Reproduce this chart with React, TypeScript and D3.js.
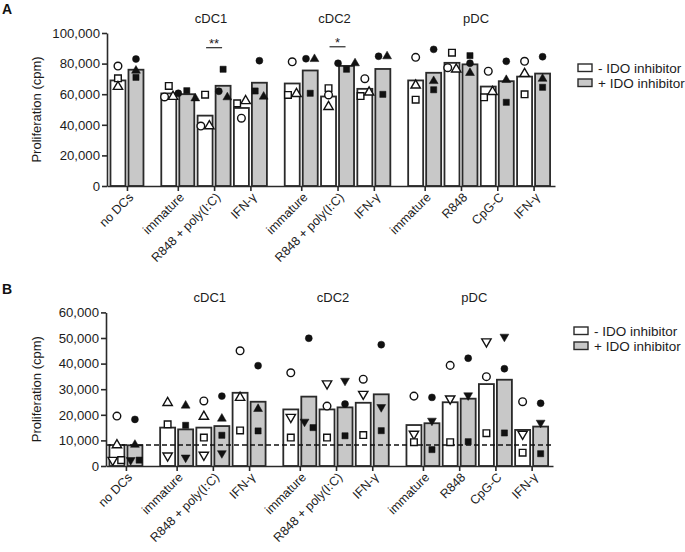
import React, { useRef, useEffect } from 'react';
import * as d3 from 'd3';

// categories on the x axis and the DC subset each one belongs to
const categories = ['no DCs', 'immature', 'R848 + poly(I:C)', 'IFN-γ', 'immature', 'R848 + poly(I:C)', 'IFN-γ', 'immature', 'R848', 'CpG-C', 'IFN-γ'];
const cellTypes = ['', 'cDC1', 'cDC1', 'cDC1', 'cDC2', 'cDC2', 'cDC2', 'pDC', 'pDC', 'pDC', 'pDC'];
const cellTypeNames = ['cDC1', 'cDC2', 'pDC'];
const legendLabels = ['- IDO inhibitor', '+ IDO inhibitor'];

// Panel A, proliferation in thousands of cpm
const barsAMinus = [69, 60.5, 46, 51, 67, 58.5, 63.5, 69, 80.5, 65, 71.5];
const barsAPlus = [76, 60, 65.5, 67.5, 75.5, 78.5, 76.5, 74, 79.5, 68.5, 73.5];
const circleAMinus = [78.4, 58.2, 39.2, 44.3, 81.2, 59.5, 70.1, 84.1, 77.3, 75, 81.5];
const squareAMinus = [70.4, 65.4, 59.7, 54, 59.5, 63.9, 58.8, 56.4, 87.1, 58, 59.9];
const triAMinus = [64.9, 58.4, 39.2, 55.6, 60.3, 51.8, 61.2, 65.8, 76.3, 61.6, 73.4];
const circleAPlus = [83, 60.6, 61.9, 81.9, 83.2, 80.2, 84.8, 89.3, 80.2, 81.5, 84.5];
const squareAPlus = [71, 62.3, 76.3, 62.1, 60.6, 76.3, 59.9, 62.9, 85.2, 54.7, 64.5];
const triAPlus = [75.4, 57.3, 58, 58.4, 83, 80.2, 84.8, 68.6, 73.9, 69.3, 70.1];
const sigAIndex = [2, 5];
const sigALabel = ['**', '*'];
const sigAValue = [90.4, 91];

// Panel B, proliferation in thousands of cpm
const barsBMinus = [8.2, 15, 15, 28.6, 22.1, 22.1, 24.7, 16, 24.9, 32, 14.1];
const barsBPlus = [8.1, 14.3, 15.6, 25.1, 27.1, 22.9, 28, 16.7, 26.3, 33.7, 15.4];
const circleBMinus = [19.5, null, 25.4, 45, 36.4, 23.4, 33.9, 27.3, 39.3, 34.9, 25.1];
const squareBMinus = [2.3, 16.3, 11.1, 13.9, 11.1, 11.1, 12.1, 9.3, 9.3, 12.8, 5.2];
const triUpBMinus = [8.2, 24.7, 19.3, 26.7, null, null, null, null, null, null, null];
const triDownBMinus = [2.3, 4, 4.3, null, 19.1, 32.2, 28.1, 12.5, 26.3, 48.6, 12.5];
const circleBPlus = [18.2, null, 27.3, 39.2, 49.9, 24.2, 47.4, 26.8, 42.1, 38, 24.5];
const squareBPlus = [2.3, 15.9, 12, 13.7, 15, 11.8, 13.8, 6.4, 9.5, 12.9, 4.8];
const triUpBPlus = [8.3, 23.6, 18.5, 22.3, null, null, null, null, null, null, null];
const triDownBPlus = [2.3, 3.3, 5, null, 17.3, 33.3, 23, 17.7, 27.6, 50.5, 16.9];
const noDCLevelB = 8.2;

const FONT = '"Liberation Sans", Arial, sans-serif';
const INK = '#2a2a2a';
const TEXT = '#1c1c1c';
const GREY = '#c8c8c8';

type Shape = 'circle' | 'square' | 'triUp' | 'triDown';
type Series = { shape: Shape; values: (number | null)[] };

interface PanelSpec {
  letter: string;
  letterY: number;
  top: number;
  bottom: number;
  left: number;
  right: number;
  max: number;
  step: number;
  barsMinus: number[];
  barsPlus: number[];
  pointsMinus: Series[];
  pointsPlus: Series[];
  legendX: number;
  legendY: number;
  dashed?: number;
  sig?: { index: number; label: string; value: number }[];
}

// x positions: one slot per category, a wider gap between DC subsets
let slot = 0;
const positions = categories.map((_, i) => {
  if (i > 0) slot += cellTypes[i] !== cellTypes[i - 1] ? 1.4 : 1;
  return slot;
});

const symbolFor = (shape: Shape, filled: boolean) => {
  const type = shape === 'circle' ? d3.symbolCircle : shape === 'square' ? d3.symbolSquare : d3.symbolTriangle;
  const size = shape === 'circle' ? (filled ? 38 : 46) : shape === 'square' ? (filled ? 38 : 44) : (filled ? 34 : 38);
  return d3.symbol().type(type).size(size)() as string;
};

function drawPanel(svg: d3.Selection<SVGSVGElement, unknown, null, undefined>, p: PanelSpec) {
  const x = d3.scaleLinear()
    .domain([-0.55, positions[positions.length - 1] + 0.59])
    .range([p.left, p.right]);
  const y = d3.scaleLinear().domain([0, p.max]).range([p.bottom, p.top]);

  const g = svg.append('g');

  // panel letter
  g.append('text')
    .attr('x', 2).attr('y', p.letterY)
    .attr('font-size', 14).attr('font-weight', 'bold').attr('fill', '#111')
    .text(p.letter);

  // DC subset titles
  cellTypeNames.forEach(name => {
    const ps = positions.filter((_, i) => cellTypes[i] === name);
    g.append('text')
      .attr('x', x(d3.mean(ps) as number) - 3)
      .attr('y', p.top - 10)
      .attr('text-anchor', 'middle')
      .attr('font-size', 13).attr('fill', TEXT)
      .text(name);
  });

  // bars
  const barW = 15;
  positions.forEach((pos, i) => {
    const c = x(pos);
    g.append('rect')
      .attr('x', c - 1.5 - barW).attr('y', y(p.barsMinus[i]))
      .attr('width', barW).attr('height', p.bottom - y(p.barsMinus[i]))
      .attr('fill', '#fff').attr('stroke', INK).attr('stroke-width', 1.8);
    g.append('rect')
      .attr('x', c + 1.5).attr('y', y(p.barsPlus[i]))
      .attr('width', barW).attr('height', p.bottom - y(p.barsPlus[i]))
      .attr('fill', GREY).attr('stroke', INK).attr('stroke-width', 1.8);
  });

  // dashed "no DCs" level
  if (p.dashed !== undefined) {
    g.append('line')
      .attr('x1', p.left).attr('x2', p.right)
      .attr('y1', y(p.dashed)).attr('y2', y(p.dashed))
      .attr('stroke', '#111').attr('stroke-width', 1.3)
      .attr('stroke-dasharray', '5,3');
  }

  // replicate points, spread sideways when they would overlap
  const drawPoints = (series: Series[], filled: boolean, offset: number) => {
    positions.forEach((pos, i) => {
      const cx = x(pos) + offset;
      const pts = series
        .map((s, k) => ({ shape: s.shape, k, v: s.values[i] }))
        .filter(d => d.v !== null)
        .map(d => ({ ...d, py: y(d.v as number) }))
        .sort((a, b) => a.py - b.py);
      const clusters: typeof pts[] = [];
      pts.forEach(pt => {
        const last = clusters[clusters.length - 1];
        if (last && pt.py - last[last.length - 1].py < 6) last.push(pt);
        else clusters.push([pt]);
      });
      clusters.forEach(cl => {
        cl.sort((a, b) => a.k - b.k);
        cl.forEach((pt, j) => {
          const px = cx + (j - (cl.length - 1) / 2) * 8.5;
          g.append('path')
            .attr('d', symbolFor(pt.shape, filled))
            .attr('transform', `translate(${px},${pt.py})${pt.shape === 'triDown' ? ' rotate(180)' : ''}`)
            .attr('fill', filled ? '#111' : '#fff')
            .attr('stroke', '#111')
            .attr('stroke-width', filled ? 0.5 : 1.4);
        });
      });
    });
  };
  drawPoints(p.pointsMinus, false, -9);
  drawPoints(p.pointsPlus, true, 9);

  // significance marks
  (p.sig ?? []).forEach(s => {
    const c = x(positions[s.index]);
    g.append('line')
      .attr('x1', c - 8).attr('x2', c + 8)
      .attr('y1', y(s.value)).attr('y2', y(s.value))
      .attr('stroke', INK).attr('stroke-width', 1.2);
    g.append('text')
      .attr('x', c).attr('y', y(s.value) + 0.5)
      .attr('text-anchor', 'middle').attr('font-size', 13).attr('fill', TEXT)
      .text(s.label);
  });

  // y axis
  g.append('g')
    .attr('transform', `translate(${p.left},0)`)
    .call(d3.axisLeft(y)
      .tickValues(d3.range(0, p.max + p.step / 2, p.step))
      .tickSize(5).tickSizeOuter(0).tickPadding(2)
      .tickFormat(d => d3.format(',')((d as number) * 1000)))
    .attr('font-size', 13.2).attr('font-family', FONT)
    .call(a => a.selectAll('path, line').attr('stroke', INK).attr('stroke-width', 1.6))
    .call(a => a.selectAll('text').attr('fill', TEXT));

  g.append('text')
    .attr('transform', `translate(36,${(p.top + p.bottom) / 2}) rotate(-90)`)
    .attr('text-anchor', 'middle').attr('dy', '0.35em')
    .attr('font-size', 13).attr('fill', TEXT)
    .text('Proliferation (cpm)');

  // x axis
  g.append('g')
    .attr('transform', `translate(0,${p.bottom})`)
    .call(d3.axisBottom(x)
      .tickValues(positions)
      .tickSize(5).tickSizeOuter(0)
      .tickFormat((_, i) => categories[i]))
    .attr('font-size', 12.5).attr('font-family', FONT)
    .call(a => a.selectAll('path, line').attr('stroke', INK).attr('stroke-width', 1.6))
    .call(a => a.selectAll('text')
      .attr('x', 0).attr('y', 0).attr('dy', '0.35em')
      .attr('transform', 'translate(3.5,9) rotate(-45)')
      .attr('text-anchor', 'end')
      .attr('fill', TEXT));

  // legend
  legendLabels.forEach((label, i) => {
    const ly = p.legendY + i * 15;
    g.append('rect')
      .attr('x', p.legendX).attr('y', ly)
      .attr('width', 14).attr('height', 7.5)
      .attr('fill', i === 0 ? '#fff' : GREY)
      .attr('stroke', INK).attr('stroke-width', 1.4);
    g.append('text')
      .attr('x', p.legendX + 20).attr('y', ly + 8.5)
      .attr('font-size', 13.5).attr('fill', TEXT)
      .text(label);
  });
}

const App: React.FC = () => {
  const svgRef = useRef<SVGSVGElement | null>(null);

  useEffect(() => {
    if (!svgRef.current) return;
    const svg = d3.select(svgRef.current);
    svg.selectAll('*').remove();

    drawPanel(svg, {
      letter: 'A', letterY: 14,
      top: 33, bottom: 186, left: 107, right: 555,
      max: 100, step: 20,
      barsMinus: barsAMinus, barsPlus: barsAPlus,
      pointsMinus: [
        { shape: 'circle', values: circleAMinus },
        { shape: 'square', values: squareAMinus },
        { shape: 'triUp', values: triAMinus },
      ],
      pointsPlus: [
        { shape: 'circle', values: circleAPlus },
        { shape: 'square', values: squareAPlus },
        { shape: 'triUp', values: triAPlus },
      ],
      legendX: 578, legendY: 64,
      sig: sigAIndex.map((index, i) => ({ index, label: sigALabel[i], value: sigAValue[i] })),
    });

    drawPanel(svg, {
      letter: 'B', letterY: 294,
      top: 312.4, bottom: 466, left: 106, right: 553,
      max: 60, step: 10,
      barsMinus: barsBMinus, barsPlus: barsBPlus,
      pointsMinus: [
        { shape: 'circle', values: circleBMinus },
        { shape: 'triDown', values: triDownBMinus },
        { shape: 'square', values: squareBMinus },
        { shape: 'triUp', values: triUpBMinus },
      ],
      pointsPlus: [
        { shape: 'circle', values: circleBPlus },
        { shape: 'triDown', values: triDownBPlus },
        { shape: 'square', values: squareBPlus },
        { shape: 'triUp', values: triUpBPlus },
      ],
      legendX: 574, legendY: 327,
      dashed: noDCLevelB,
    });
  }, []);

  return (
    <svg
      ref={svgRef}
      width={685}
      height={552}
      style={{ position: 'absolute', left: 0, top: 0, background: '#fff', fontFamily: FONT }}
    />
  );
};

export default App;
